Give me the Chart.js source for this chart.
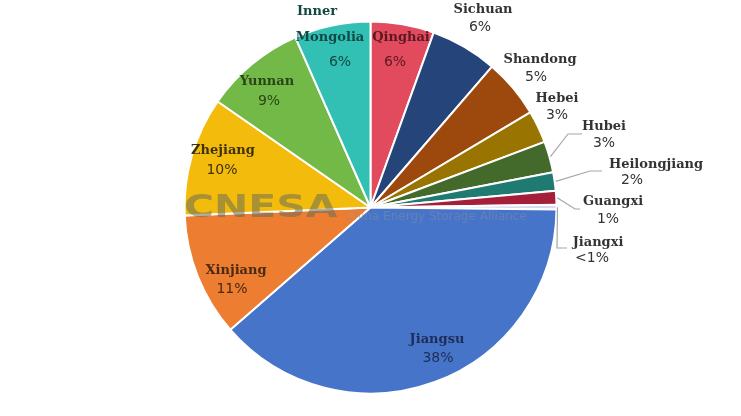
<!DOCTYPE html>
<html>
<head>
<meta charset="utf-8">
<script src="https://cdn.jsdelivr.net/npm/chart.js@4.4.1/dist/chart.umd.min.js"></script>
<style>
html,body{margin:0;padding:0;background:#fff;}
#wrap{position:relative;width:741px;height:416px;}
</style>
</head>
<body>
<div id="wrap"><canvas id="pieChart" width="741" height="416"></canvas></div>
<script>
// provinces, clockwise from 12 o'clock
const provinces=['Qinghai','Sichuan','Shandong','Hebei','Hubei','Heilongjiang','Guangxi','Jiangxi','Jiangsu','Xinjiang','Zhejiang','Yunnan','Inner Mongolia'];
const shares=[5.5,5.8,5.1,2.8,2.7,1.6,1.2,0.4,38.3,10.7,10.3,8.7,6.6];
const shareLabels=['6%','6%','5%','3%','3%','2%','1%','<1%','38%','11%','10%','9%','6%'];

const sliceColors=['#e24b5e','#254479','#9d490d','#9a7400','#43692b','#1f7a72','#a41f3a','#d6dcef','#4674c8','#ec7d31','#f3bc0c','#73b947','#31c0b3'];
const nameColors=['#5a1822','#333','#333','#333','#333','#333','#333','#333','#1e2d57','#4a2a12','#3f3108','#2b4419','#124843'];
const pctColors=['#5a1822','#333','#333','#333','#333','#333','#333','#333','#1e2d57','#4a2a12','#3f3108','#2b4419','#124843'];

// label placement (page px) : name lines, pct line, optional leader elbow
const labelPos=[
  {name:[[401,38]],pct:[395,62]},
  {name:[[483,10]],pct:[480,27]},
  {name:[[540,60]],pct:[536,77]},
  {name:[[557,99]],pct:[557,115]},
  {name:[[604,127]],pct:[604,143],lead:[[568,134],[582,134]]},
  {name:[[656,165]],pct:[632,180],lead:[[590,171],[602,171]]},
  {name:[[613,202]],pct:[608,219],lead:[[575,209],[580,209]]},
  {name:[[598,243]],pct:[592,258],lead:[[557,248],[567,248]]},
  {name:[[437,340]],pct:[438,358]},
  {name:[[236,271]],pct:[232,289]},
  {name:[[223,151]],pct:[222,170]},
  {name:[[267,82]],pct:[269,101]},
  {name:[[317,12],[330,38]],pct:[340,62]}
];

const watermark={
  id:'watermark',
  afterDatasetsDraw(chart){
    const ctx=chart.ctx;
    ctx.save();
    ctx.fillStyle='rgba(105,110,85,0.55)';
    ctx.font='bold 32px "DejaVu Sans"';
    ctx.textBaseline='alphabetic';
    ctx.translate(184,217);ctx.scale(1.28,1);
    ctx.fillText('CNESA',0,0);
    ctx.restore();
    ctx.save();
    ctx.fillStyle='rgba(140,145,160,0.45)';
    ctx.font='12px "DejaVu Sans"';
    ctx.textBaseline='middle';
    ctx.fillText('China Energy Storage Alliance',345,217);
    ctx.restore();
  }
};

const sliceLabels={
  id:'sliceLabels',
  afterDraw(chart){
    const ctx=chart.ctx;
    const arcs=chart.getDatasetMeta(0).data;
    ctx.save();
    ctx.textAlign='center';ctx.textBaseline='middle';
    arcs.forEach((arc,i)=>{
      const p=labelPos[i];
      if(p.lead){
        const mid=(arc.startAngle+arc.endAngle)/2;
        const sx=arc.x+Math.cos(mid)*(arc.outerRadius+1),sy=arc.y+Math.sin(mid)*(arc.outerRadius+1);
        ctx.strokeStyle='#a6a6a6';ctx.lineWidth=1.2;
        ctx.beginPath();ctx.moveTo(sx,sy);
        p.lead.forEach(q=>ctx.lineTo(q[0],q[1]));
        ctx.stroke();
      }
      ctx.font='bold 13px "DejaVu Serif"';ctx.fillStyle=nameColors[i];
      const parts=provinces[i]==='Inner Mongolia'?['Inner','Mongolia']:[provinces[i]];
      parts.forEach((t,k)=>ctx.fillText(t,p.name[k][0],p.name[k][1]));
      ctx.font='14px "DejaVu Sans"';ctx.fillStyle=pctColors[i];
      ctx.fillText(shareLabels[i],p.pct[0],p.pct[1]);
    });
    ctx.restore();
  }
};

new Chart(document.getElementById('pieChart').getContext('2d'),{
  type:'pie',
  data:{
    labels:provinces,
    datasets:[{data:shares,backgroundColor:sliceColors,borderColor:'#fff',borderWidth:2}]
  },
  options:{
    responsive:false,
    animation:false,
    radius:186,
    layout:{padding:{top:21,bottom:22,left:0,right:0}},
    plugins:{legend:{display:false},tooltip:{enabled:false}}
  },
  plugins:[watermark,sliceLabels]
});
</script>
</body>
</html>
